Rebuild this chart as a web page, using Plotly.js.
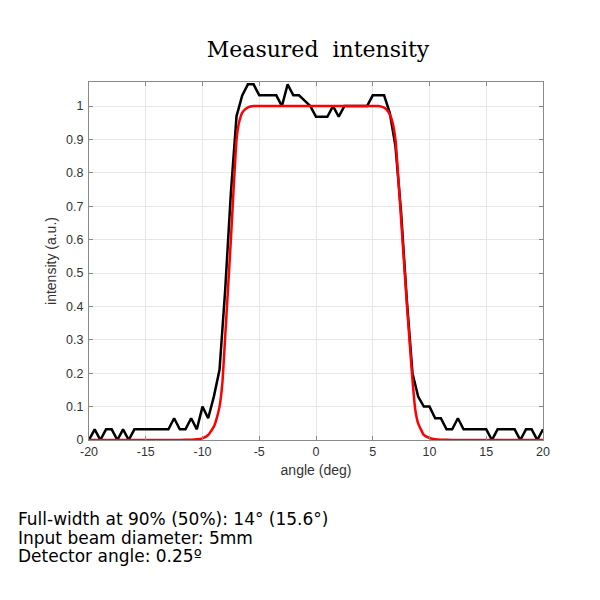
<!DOCTYPE html>
<html>
<head>
<meta charset="utf-8">
<script src="https://cdn.plot.ly/plotly-3.0.1.min.js"></script>
<style>html,body{margin:0;padding:0;background:#fff;}#chart{width:600px;height:600px;}</style>
</head>
<body>
<div id="chart"></div>
<script>
// Measured (black) data, 0.5 deg steps
const measuredAngle = [-20,-19.5,-19,-18.5,-18,-17.5,-17,-16.5,-16,-15.5,-15,-14.5,-14,-13.5,-13,-12.5,-12,-11.5,-11,-10.5,-10,-9.5,-9,-8.5,-8,-7.5,-7,-6.5,-6,-5.5,-5,-4.5,-4,-3.5,-3,-2.5,-2,-1.5,-1,-0.5,0,0.5,1,1.5,2,2.5,3,3.5,4,4.5,5,5.5,6,6.5,7,7.5,8,8.5,9,9.5,10,10.5,11,11.5,12,12.5,13,13.5,14,14.5,15,15.5,16,16.5,17,17.5,18,18.5,19,19.5,20];
const measuredIntensity = [0,0.032,0,0.032,0.032,0,0.032,0,0.032,0.032,0.032,0.032,0.032,0.032,0.032,0.065,0.032,0.032,0.065,0.032,0.1,0.065,0.13,0.21,0.45,0.74,0.97,1.032,1.065,1.065,1.032,1.032,1.032,1.032,1.0,1.065,1.032,1.032,1.016,1.0,0.968,0.968,0.968,1.0,0.968,1.0,1.0,1.0,1.0,1.0,1.032,1.032,1.032,0.98,0.88,0.68,0.42,0.2,0.13,0.1,0.1,0.065,0.065,0.032,0.032,0.065,0.032,0.032,0.032,0.032,0.032,0,0.032,0.032,0.032,0.032,0,0.032,0.032,0,0.032];

// Model (red) curve
const modelAngle = [-20,-15,-12,-11,-10.5,-10,-9.5,-9,-8.75,-8.5,-8.25,-8,-7.5,-7,-6.75,-6.5,-6.25,-6,-5.5,-5,0,5,5.5,6,6.25,6.5,6.75,7,7.5,8,8.5,8.75,9,9.5,10,10.5,11,12,15,20];
const modelIntensity = [0,0,0,0.001,0.002,0.005,0.015,0.04,0.065,0.1,0.17,0.31,0.6,0.9,0.955,0.98,0.99,0.996,1.0,1.0,1.0,1.0,1.0,0.995,0.988,0.975,0.95,0.9,0.66,0.41,0.18,0.09,0.05,0.015,0.006,0.002,0.001,0,0,0];

const xTicks = [-20,-15,-10,-5,0,5,10,15,20];
const yTicks = [0,0.1,0.2,0.3,0.4,0.5,0.6,0.7,0.8,0.9,1];

const infoLines = [
  "Full-width at 90% (50%): 14° (15.6°)",
  "Input beam diameter: 5mm",
  "Detector angle: 0.25º"
];

const traces = [
  {x: measuredAngle, y: measuredIntensity, type: 'scatter', mode: 'lines',
   line: {color: '#000000', width: 2.5}, hoverinfo: 'skip', cliponaxis: false},
  {x: modelAngle, y: modelIntensity, type: 'scatter', mode: 'lines',
   line: {color: '#ff0000', width: 2.5, shape: 'spline', smoothing: 0.4}, hoverinfo: 'skip', cliponaxis: false}
];

const plotTop = 82, plotBottom = 440, plotLeft = 89, plotRight = 543;
const plotH = plotBottom - plotTop, plotW = plotRight - plotLeft;

const annotations = infoLines.map((t, i) => ({
  text: t, xref: 'paper', yref: 'paper',
  x: (16 - plotLeft) / plotW,
  y: (plotBottom - (519 + i * 18.5)) / plotH,
  xanchor: 'left', yanchor: 'middle', showarrow: false, align: 'left',
  font: {family: 'DejaVu Sans, Verdana, sans-serif', size: 17, color: '#000'}
}));

const axisCommon = {
  showgrid: true, gridcolor: '#e6e6e6', gridwidth: 1,
  zeroline: false, showline: true, linecolor: '#8a8a8a', linewidth: 1,
  mirror: 'ticks', ticks: 'inside', ticklen: 4, tickcolor: '#8a8a8a', tickwidth: 1,
  tickfont: {family: 'Liberation Sans, Arial, sans-serif', size: 12.5, color: '#333333'}
};

const layout = {
  width: 600, height: 600,
  margin: {l: plotLeft, r: 600 - plotRight, t: plotTop, b: 600 - plotBottom, pad: 0},
  paper_bgcolor: '#ffffff', plot_bgcolor: '#ffffff',
  showlegend: false,
  title: {text: 'Measured  intensity', x: 318 / 600, xanchor: 'center',
          y: 1 - 49 / 600, yanchor: 'middle', yref: 'container',
          font: {family: 'DejaVu Serif, Liberation Serif, serif', size: 22, color: '#000'}},
  xaxis: Object.assign({}, axisCommon, {
    range: [-20, 20], tickvals: xTicks, ticktext: xTicks.map(String),
    title: {text: 'angle (deg)', standoff: 7,
            font: {family: 'Liberation Sans, Arial, sans-serif', size: 14, color: '#333333'}}
  }),
  yaxis: Object.assign({}, axisCommon, {
    range: [0, 1.072], tickvals: yTicks, ticktext: yTicks.map(String),
    ticklabelstandoff: 2,
    title: {text: 'intensity (a.u.)', standoff: 6,
            font: {family: 'Liberation Sans, Arial, sans-serif', size: 14, color: '#333333'}}
  }),
  annotations: annotations
};

Plotly.newPlot('chart', traces, layout, {displayModeBar: false, staticPlot: true});
</script>
</body>
</html>
